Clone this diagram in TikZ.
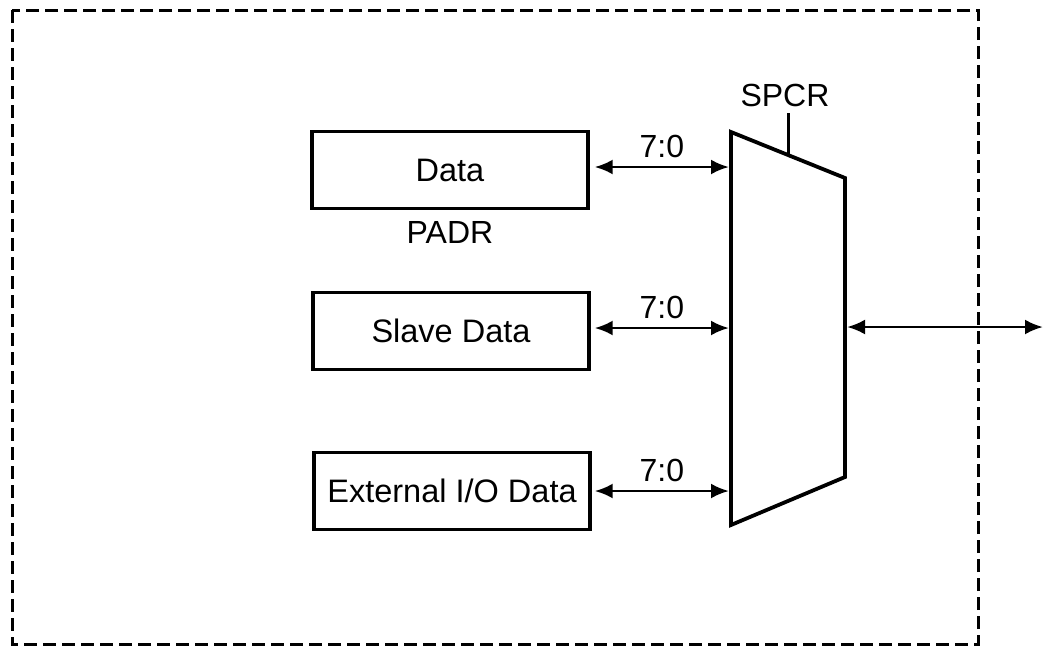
\documentclass[tikz,border=0pt]{standalone}
\usepackage{fontspec}
\setmainfont{Liberation Sans}
\usetikzlibrary{arrows.meta,calc}

\tikzset{
  regbox/.style={draw, line width=3.4pt, minimum width=276pt, minimum height=77pt,
                 inner sep=0pt, font=\fontsize{32.5}{36}\selectfont},
  lbl/.style={font=\fontsize{32}{36}\selectfont, inner sep=0pt},
  bus/.style={line width=2.8pt, {Latex[length=18pt,width=15pt]}-{Latex[length=18pt,width=15pt]}},
  muxline/.style={line width=3.8pt, line join=miter},
  frame/.style={line width=3pt, dash pattern=on 13pt off 6pt}
}

\begin{document}
\begin{tikzpicture}[x=1pt,y=-1pt]
  \useasboundingbox (0,0) rectangle (1045,649);

  % outer dashed boundary
  \draw[frame] (12,10) rectangle (978,644);

  % register / data source blocks
  \node[regbox] (data)  at (450,170) {Data};
  \node[lbl] (padr) at (450,232) {PADR};
  \node[regbox] (slave) at (451,331) {Slave Data};
  \node[regbox] (ext)   at (452,491) {External I/O Data};

  % multiplexer outline
  \coordinate (mtl) at (731,132);
  \coordinate (mtr) at (845,178);
  \coordinate (mbr) at (845,477);
  \coordinate (mbl) at (731,525);
  \draw[muxline] (mtl) -- (mtr) -- (mbr) -- (mbl) -- cycle;

  % select input
  \node[lbl] (spcr) at (785,95) {SPCR};
  \coordinate (sel) at ($(mtl)!0.5!(mtr)$);
  \draw[line width=3pt] (788,113) -- (sel);

  % mux input ports
  \coordinate (in1) at (729,167);
  \coordinate (in2) at (729,328);
  \coordinate (in3) at (729,491);

  \draw[bus] (data.east  |- in1) ++(5,0) coordinate (d1) -- (in1)
        node[lbl, midway, above=8pt] (b1) {7:0};
  \draw[bus] (slave.east |- in2) ++(4,0) coordinate (d2) -- (in2)
        node[lbl, midway, above=8pt] (b2) {7:0};
  \draw[bus] (ext.east   |- in3) ++(3,0) coordinate (d3) -- (in3)
        node[lbl, midway, above=8pt] (b3) {7:0};

  % mux output port
  \coordinate (mout) at (847,327);
  \coordinate (pin)  at (1043,327);
  \draw[bus] (mout) -- (pin);
\end{tikzpicture}
\end{document}
